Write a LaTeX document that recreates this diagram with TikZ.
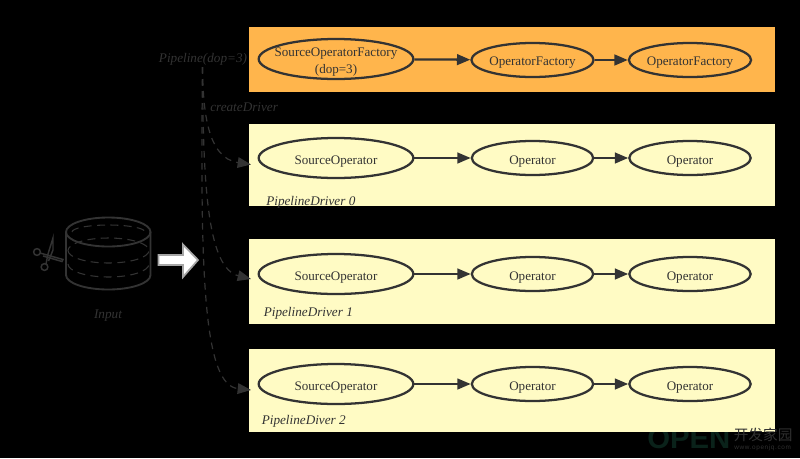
\documentclass[tikz,border=0pt]{standalone}
\usepackage{fontspec}
\setmainfont{Liberation Serif}
\newfontfamily\cjkfont{Noto Sans CJK SC}
\newfontfamily\wmfont{Liberation Sans}
\newfontfamily\wmspaced[LetterSpace=10]{Liberation Sans}
\usetikzlibrary{shapes.geometric,arrows.meta}
\definecolor{ink}{HTML}{333333}
\definecolor{factory}{HTML}{FFB54C}
\definecolor{driver}{HTML}{FFFBC4}
\tikzset{
  px/.style={x=0.75pt,y=-0.75pt},
  big/.style={draw=ink,line width=1.7pt,ellipse,minimum width=116pt,minimum height=30pt,inner sep=0pt,text=ink,font=\fontsize{9.8pt}{12.75pt}\selectfont,text height=9pt,text depth=0pt},
  small/.style={big,minimum width=91pt,minimum height=25.5pt},
  flow/.style={draw=ink,line width=1.7pt,-{Triangle[length=10pt,width=8pt]}},
  spawn/.style={draw=ink,line width=0.9pt,dash pattern=on 5pt off 4pt,-{Triangle[length=10pt,width=8pt,fill=ink]}},
  note/.style={text=ink,font=\fontsize{9.9pt}{11pt}\selectfont\itshape,inner sep=0pt},
  inner/.style={draw=ink,line width=0.8pt,dash pattern=on 6pt off 4pt},
  outer/.style={draw=ink,line width=1.4pt},
}
\begin{document}
\begin{tikzpicture}[px]
\useasboundingbox[fill=black] (0,0) rectangle (800,458);
% watermark under the bands
\node[inner sep=0pt,anchor=west,font=\wmfont\bfseries\fontsize{22pt}{22pt}\selectfont,text={rgb,255:red,10;green,34;blue,26}] (wm1) at (647,438.5) {OPEN};
% bands
\fill[factory] (249,27) rectangle (775,92);
\fill[driver] (249,124) rectangle (775,205.5);
\fill[driver] (249,239) rectangle (775,324);
\fill[driver] (249,349) rectangle (775,432);
% factory row
\node[big] (f0) at (336,59) {};
\node[text=ink,inner sep=0pt,align=center,font=\fontsize{9.8pt}{12.75pt}\selectfont] (f0text) at (336,62) {SourceOperatorFactory\\(dop=3)};
\node[small,text height=8pt] (f1) at (532.5,60) {OperatorFactory};
\node[small,text height=8pt] (f2) at (690,60) {OperatorFactory};
\draw[flow] (f0) -- (f1);
\draw[flow] (f1) -- (f2);
% driver rows
\foreach \n/\y in {a/158,b/274,c/384}{
  \node[big] (\n0) at (336,\y) {SourceOperator};
  \node[small] (\n1) at (532.5,\y) {Operator};
  \node[small] (\n2) at (690,\y) {Operator};
  \draw[flow] (\n0) -- (\n1);
  \draw[flow] (\n1) -- (\n2);
}
% labels
\node[note] (pipe) at (203,59.5) {Pipeline(dop=3)};
\node[note,anchor=west] (create) at (210,107.5) {createDriver};
\node[note,anchor=west] (d0) at (266,202.5) {PipelineDriver 0};
\node[note,anchor=west] (d1) at (263.5,313) {PipelineDriver 1};
\node[note,anchor=west] (d2) at (261.5,421) {PipelineDiver 2};
\node[note] (input) at (108,316) {Input};
% createDriver connectors
\coordinate (t0) at (251,164.5);
\coordinate (t1) at (251,279);
\coordinate (t2) at (251,390);
\coordinate (start) at (202.5,67);
\draw[spawn] (start) .. controls (203,110) and (207,158) .. (t0);
\draw[spawn] (start) .. controls (203,190) and (208,268) .. (t1);
\draw[spawn] (start) .. controls (200,280) and (204,385) .. (t2);
% cylinder
\coordinate (cw) at (66,232);
\coordinate (ce) at (150.5,232);
\draw[outer] (cw) arc[start angle=180,end angle=-180,x radius=42.25,y radius=14.5];
\draw[outer] (cw) -- (66,275) arc[start angle=180,end angle=0,x radius=42.25,y radius=14.5] -- (ce);
\draw[inner] (72,232) arc[start angle=180,end angle=360,x radius=36.5,y radius=7];
\draw[inner] (68,250.5) arc[start angle=180,end angle=-180,x radius=40.5,y radius=12.5];
\draw[inner] (68,264) arc[start angle=180,end angle=0,x radius=40.5,y radius=13];
% scissors
\begin{scope}[draw=ink,line width=1.1pt]
\draw (37,252) circle[radius=3.4];
\draw (44.5,267) circle[radius=3.4];
\draw (40,253) -- (63,259.5) -- (62,261.5) -- (43,256);
\draw (46,264) -- (48,254) -- (53,238) -- (53,250) -- (48.5,261);
\end{scope}
% block arrow
\draw[draw=gray!70,fill=white,line width=1.3pt,line join=miter]
  (158.5,255) -- (183,255) -- (183,244.5) -- (198,260) -- (183,277) -- (183,265) -- (158.5,265) -- cycle;
% watermark text
\node[inner sep=0pt,anchor=west,font=\cjkfont\fontsize{11pt}{12pt}\selectfont,text={rgb,255:red,48;green,48;blue,48}] (wm2) at (733.5,434.5) {开发家园};
\node[inner sep=0pt,anchor=west,font=\wmspaced\fontsize{4.8pt}{5pt}\selectfont,text={rgb,255:red,48;green,48;blue,48}] (wm3) at (734,447.5) {www.openjq.com};
\end{tikzpicture}
\end{document}
